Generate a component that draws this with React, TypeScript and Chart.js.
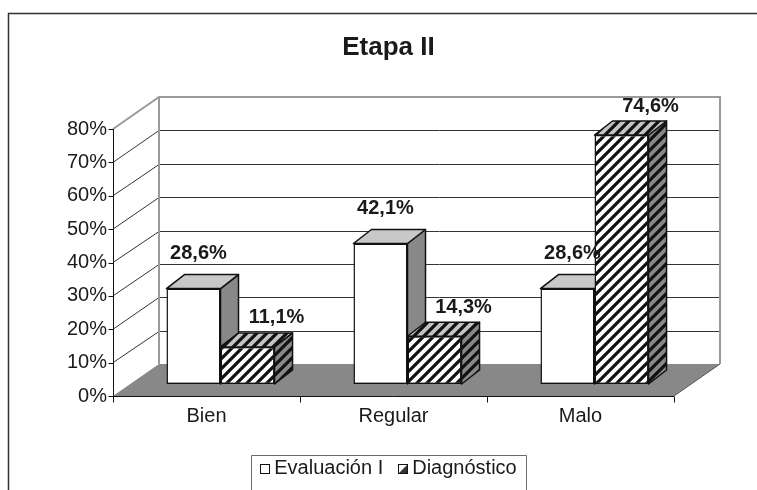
import { useEffect, useRef } from 'react';
import { Chart, registerables } from 'chart.js';

Chart.register(...registerables);

// ---- data ----
const categories = ['Bien', 'Regular', 'Malo'];
const seriesNames = ['Evaluación I', 'Diagnóstico'];
const evaluacionValues = [28.6, 42.1, 28.6];
const diagnosticoValues = [11.1, 14.3, 74.6];
const yMin = 0;
const yMax = 80;
const yStep = 10;
const titleText = 'Etapa II';

// ---- layout / style constants ----
const FONT = "'Liberation Sans', Arial, sans-serif";
const TEXT = '#1a1a1a';
const BAR_DX = 18;
const BAR_DY = 14;
const FRONT_DX = -14;
const FRONT_DY = 12;
const BACK_DX = 32;
const BACK_DY = -20;
const LEGEND_CX = 388.5;
const LEGEND_CY = 468;
const LEGEND_TOP = 455;

function makeHatch(ctx: CanvasRenderingContext2D, bg: string) {
  const s = 10;
  const c = document.createElement('canvas');
  c.width = s;
  c.height = s;
  const g = c.getContext('2d')!;
  g.fillStyle = bg;
  g.fillRect(0, 0, s, s);
  g.strokeStyle = '#111';
  g.lineWidth = 3.2;
  g.beginPath();
  g.moveTo(-2, s + 2);
  g.lineTo(s + 2, -2);
  g.moveTo(-s / 2 - 2, s / 2 + 2);
  g.lineTo(s / 2 + 2, -s / 2 - 2);
  g.moveTo(s / 2 - 2, 1.5 * s + 2);
  g.lineTo(1.5 * s + 2, s / 2 - 2);
  g.stroke();
  return ctx.createPattern(c, 'repeat')!;
}

function fmt(v: number) {
  return v.toFixed(1).replace('.', ',') + '%';
}

export default function App() {
  const ref = useRef<HTMLCanvasElement>(null);

  useEffect(() => {
    const canvas = ref.current!;
    const c2d = canvas.getContext('2d')!;
    const hatchWhite = makeHatch(c2d, '#ffffff');
    const hatchGray = makeHatch(c2d, '#888888');
    const hatchLight = makeHatch(c2d, '#c4c4c4');
    const faces: any[] = [
      { side: '#888888', top: '#c8c8c8' },
      { side: hatchGray, top: hatchLight },
    ];

    const frame3d = {
      id: 'frame3d',
      beforeDatasetsDraw(chart: any) {
        const { ctx, chartArea: a, scales } = chart;
        const ys = scales.y;
        const fy = (v: number) => ys.getPixelForValue(v) + FRONT_DY;
        const by = (v: number) => ys.getPixelForValue(v) + BACK_DY;
        const fl = a.left + FRONT_DX;
        const fr = a.right + FRONT_DX;
        const bl = a.left + BACK_DX;
        const br = a.right + BACK_DX;
        const tickVals: number[] = ys.ticks.map((t: any) => t.value);
        ctx.save();

        // floor
        ctx.fillStyle = '#888888';
        ctx.beginPath();
        ctx.moveTo(fl, fy(yMin));
        ctx.lineTo(fr, fy(yMin));
        ctx.lineTo(br, by(yMin));
        ctx.lineTo(bl, by(yMin));
        ctx.closePath();
        ctx.fill();
        ctx.strokeStyle = '#555';
        ctx.lineWidth = 1;
        ctx.beginPath();
        ctx.moveTo(fr, fy(yMin));
        ctx.lineTo(br, by(yMin));
        ctx.stroke();

        // back wall gridlines + side wall lines
        ctx.strokeStyle = '#333';
        ctx.lineWidth = 1;
        ctx.beginPath();
        for (const v of tickVals) {
          if (v <= yMin || v >= yMax) continue;
          const yb = Math.round(by(v)) + 0.5;
          ctx.moveTo(bl, yb);
          ctx.lineTo(br, yb);
          ctx.moveTo(fl, fy(v));
          ctx.lineTo(bl, yb);
        }
        ctx.stroke();

        // wall edges (gray)
        ctx.strokeStyle = '#9a9a9a';
        ctx.lineWidth = 2;
        ctx.beginPath();
        ctx.moveTo(fl, fy(yMax));
        ctx.lineTo(bl, by(yMax));
        ctx.lineTo(br, by(yMax));
        ctx.lineTo(br, by(yMin));
        ctx.moveTo(bl, by(yMax));
        ctx.lineTo(bl, by(yMin));
        ctx.stroke();

        // front axes
        ctx.strokeStyle = '#111';
        ctx.lineWidth = 1;
        ctx.beginPath();
        const axX = Math.round(fl) + 0.5;
        const axY = Math.round(fy(yMin)) + 0.5;
        ctx.moveTo(axX, fy(yMax));
        ctx.lineTo(axX, axY);
        ctx.lineTo(fr, axY);
        for (const v of tickVals) {
          const yy = Math.round(fy(v)) + 0.5;
          ctx.moveTo(axX - 5, yy);
          ctx.lineTo(axX, yy);
        }
        const n = categories.length;
        const w = (a.right - a.left) / n;
        for (let k = 0; k <= n; k++) {
          const xx = Math.round(fl + k * w) + 0.5;
          ctx.moveTo(xx, axY);
          ctx.lineTo(xx, axY + 6);
        }
        ctx.stroke();

        // bar sides and tops
        ctx.strokeStyle = '#111';
        ctx.lineWidth = 1.5;
        ctx.lineJoin = 'round';
        for (let i = 0; i < n; i++) {
          for (let d = 0; d < chart.data.datasets.length; d++) {
            const el = chart.getDatasetMeta(d).data[i];
            const p = el.getProps(['x', 'y', 'base', 'width'], true);
            const x0 = p.x - p.width / 2;
            const x1 = p.x + p.width / 2;
            const top = p.y;
            const bot = p.base;
            ctx.fillStyle = faces[d].side;
            ctx.beginPath();
            ctx.moveTo(x1, top);
            ctx.lineTo(x1 + BAR_DX, top - BAR_DY);
            ctx.lineTo(x1 + BAR_DX, bot - BAR_DY);
            ctx.lineTo(x1, bot);
            ctx.closePath();
            ctx.fill();
            ctx.stroke();
            ctx.fillStyle = faces[d].top;
            ctx.beginPath();
            ctx.moveTo(x0, top);
            ctx.lineTo(x1, top);
            ctx.lineTo(x1 + BAR_DX, top - BAR_DY);
            ctx.lineTo(x0 + BAR_DX, top - BAR_DY);
            ctx.closePath();
            ctx.fill();
            ctx.stroke();
          }
        }
        ctx.restore();
      },
    };

    const valueLabels = {
      id: 'valueLabels',
      afterDatasetsDraw(chart: any) {
        const { ctx } = chart;
        ctx.save();
        ctx.font = `bold 20px ${FONT}`;
        ctx.fillStyle = TEXT;
        ctx.textAlign = 'center';
        ctx.textBaseline = 'middle';
        const offs = [
          { dx: 5, dy: -35 },
          { dx: 29, dy: -29 },
        ];
        chart.data.datasets.forEach((ds: any, d: number) => {
          chart.getDatasetMeta(d).data.forEach((el: any, i: number) => {
            const p = el.getProps(['x', 'y'], true);
            ctx.fillText(fmt(ds.data[i]), p.x + offs[d].dx, p.y + offs[d].dy);
          });
        });
        ctx.restore();
      },
    };

    const decor = {
      id: 'decor',
      afterDraw(chart: any) {
        const { ctx } = chart;
        ctx.save();
        ctx.strokeStyle = '#333';
        ctx.lineWidth = 1.5;
        ctx.beginPath();
        ctx.moveTo(8.5, chart.height);
        ctx.lineTo(8.5, 13.5);
        ctx.lineTo(chart.width, 13.5);
        ctx.stroke();

        ctx.font = `20px ${FONT}`;
        const names = chart.data.datasets.map((ds: any) => ds.label);
        const mk = 9;
        const gap = 5;
        const itemGap = 15;
        const widths = names.map((s: string) => ctx.measureText(s).width);
        const total = widths.reduce((s: number, w: number) => s + mk + gap + w, 0) + itemGap * (names.length - 1);
        let x = LEGEND_CX - total / 2;
        const padX = 9;
        ctx.strokeStyle = '#6a6a6a';
        ctx.lineWidth = 1;
        ctx.beginPath();
        const lx0 = Math.round(x - padX) + 0.5;
        const lx1 = Math.round(x + total + padX) + 0.5;
        ctx.moveTo(lx0, chart.height);
        ctx.lineTo(lx0, LEGEND_TOP + 0.5);
        ctx.lineTo(lx1, LEGEND_TOP + 0.5);
        ctx.lineTo(lx1, chart.height);
        ctx.stroke();

        ctx.textBaseline = 'middle';
        ctx.textAlign = 'left';
        names.forEach((name: string, d: number) => {
          const mx = Math.round(x) + 0.5;
          const my = Math.round(LEGEND_CY - mk / 2) + 0.5;
          ctx.fillStyle = '#fff';
          ctx.fillRect(mx, my, mk, mk);
          if (d === 1) {
            ctx.fillStyle = '#333';
            ctx.beginPath();
            ctx.moveTo(mx, my + mk);
            ctx.lineTo(mx + mk, my + mk);
            ctx.lineTo(mx + mk, my);
            ctx.closePath();
            ctx.fill();
          }
          ctx.strokeStyle = '#111';
          ctx.lineWidth = 1;
          ctx.strokeRect(mx, my, mk, mk);
          ctx.fillStyle = TEXT;
          ctx.fillText(name, x + mk + gap, LEGEND_CY);
          x += mk + gap + widths[d] + itemGap;
        });
        ctx.restore();
      },
    };

    const chart = new Chart(canvas, {
      type: 'bar',
      data: {
        labels: categories,
        datasets: [
          {
            label: seriesNames[0],
            data: evaluacionValues,
            backgroundColor: '#ffffff',
            borderColor: '#111',
            borderWidth: 1.5,
            borderSkipped: false,
          },
          {
            label: seriesNames[1],
            data: diagnosticoValues,
            backgroundColor: hatchWhite,
            borderColor: '#111',
            borderWidth: 1.5,
            borderSkipped: false,
          },
        ],
      },
      options: {
        responsive: false,
        animation: false,
        layout: { padding: { left: 20, right: 0, top: 0, bottom: 0 } },
        datasets: {
          bar: { categoryPercentage: 0.578, barPercentage: 1 },
        },
        scales: {
          x: {
            grid: { display: false, drawTicks: false },
            border: { display: false },
            ticks: {
              font: { family: FONT, size: 20 },
              color: TEXT,
              labelOffset: FRONT_DX,
              padding: 20,
            },
            afterFit: (s: any) => {
              s.height = 106;
            },
          },
          y: {
            min: yMin,
            max: yMax,
            grid: { display: false, drawTicks: false },
            border: { display: false },
            ticks: {
              stepSize: yStep,
              font: { family: FONT, size: 20 },
              color: TEXT,
              labelOffset: FRONT_DY,
              padding: 20,
              callback: (v: any) => v + '%',
            },
            afterFit: (s: any) => {
              s.width = 107;
            },
          },
          yR: {
            position: 'right',
            min: 0,
            max: 1,
            grid: { display: false, drawTicks: false },
            border: { display: false },
            ticks: { display: false },
            afterFit: (s: any) => {
              s.width = 69;
            },
          },
        },
        plugins: {
          legend: { display: false },
          tooltip: { enabled: false },
          title: {
            display: true,
            text: titleText,
            color: TEXT,
            font: { family: FONT, size: 26, weight: 'bold' },
            padding: { top: 32, bottom: 53.8 },
          },
        },
      } as any,
      plugins: [frame3d, valueLabels, decor],
    });
    return () => chart.destroy();
  }, []);

  return (
    <div style={{ position: 'absolute', left: 0, top: 0, width: 757, height: 490, background: '#fff' }}>
      <canvas ref={ref} width={757} height={490} style={{ display: 'block' }} />
    </div>
  );
}
